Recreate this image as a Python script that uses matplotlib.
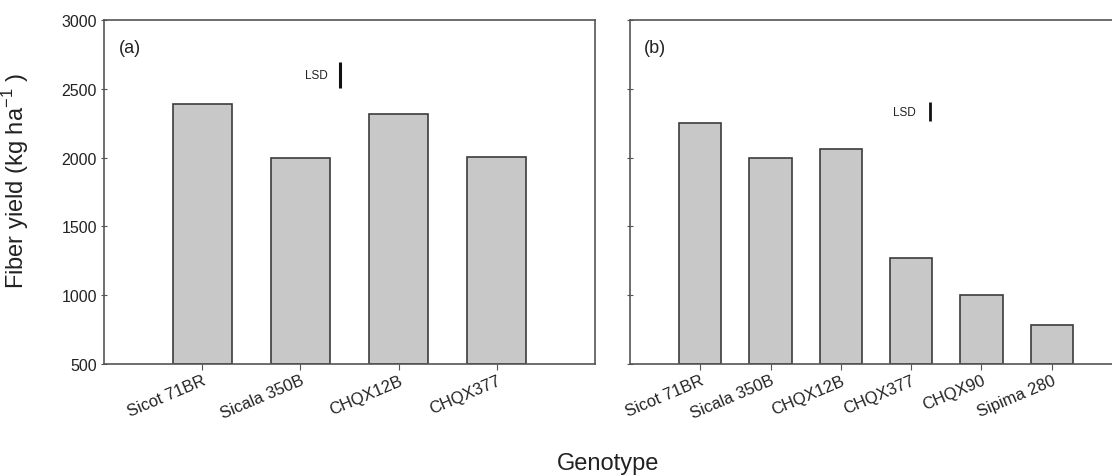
import matplotlib
matplotlib.use("Agg")
import matplotlib.pyplot as plt

plt.rcParams['font.family'] = ['Liberation Sans', 'DejaVu Sans']
plt.rcParams['mathtext.fontset'] = 'custom'
plt.rcParams['mathtext.rm'] = 'Liberation Sans'

genotypes_a = ["Sicot 71BR", "Sicala 350B", "CHQX12B", "CHQX377"]
yield_a = [2390, 2000, 2315, 2005]
lsd_a = [2505, 2695]

genotypes_b = ["Sicot 71BR", "Sicala 350B", "CHQX12B", "CHQX377", "CHQX90", "Sipima 280"]
yield_b = [2250, 1995, 2065, 1270, 1000, 780]
lsd_b = [2266, 2404]

yticks = [500, 1000, 1500, 2000, 2500, 3000]

W, H = 1112, 477
fig = plt.figure(figsize=(W / 100, H / 100), dpi=100)

bar_fc = "#c8c8c8"
bar_ec = "#3c3c3c"
spine_c = "#555555"
text_c = "#222222"

def style(ax):
    for s in ax.spines.values():
        s.set_color(spine_c)
        s.set_linewidth(1.2)
    ax.tick_params(axis='y', direction='inout', length=4, width=0.8, color=spine_c,
                   labelsize=11.5, labelcolor=text_c, pad=3)
    ax.tick_params(axis='x', direction='out', length=4, width=0.8, color=spine_c,
                   labelsize=12, labelcolor=text_c, pad=2)
    ax.set_ylim(500, 3000)
    ax.set_yticks(yticks)

# panel (a)
axa = fig.add_axes([104 / W, 1 - 365 / H, 491 / W, 344 / H])
xa = list(range(1, len(genotypes_a) + 1))
axa.bar(xa, [v - 500 for v in yield_a], bottom=500, width=0.6, color=bar_fc,
        edgecolor=bar_ec, linewidth=1.2)
axa.set_xlim(0, 5)
style(axa)
axa.set_xticks(xa)
axa.set_xticklabels(genotypes_a, rotation=23, ha='right', rotation_mode='anchor')
axa.text(0.15, 2800, "(a)", fontsize=13, color=text_c, va='center', ha='left')
axa.plot([2.40, 2.40], lsd_a, color='#111111', linewidth=2.2, solid_capstyle='butt')
axa.text(2.28, sum(lsd_a) / 2, "LSD", fontsize=8.5, color=text_c, va='center', ha='right')
axa.set_ylabel(r"Fiber yield (kg ha$^{\mathregular{-1}}$ )", fontsize=17, color=text_c)
axa.yaxis.set_label_coords(-0.148, 0.535)

# panel (b)
axb = fig.add_axes([630 / W, 1 - 365 / H, 492 / W, 344 / H])
xb = list(range(1, len(genotypes_b) + 1))
axb.bar(xb, [v - 500 for v in yield_b], bottom=500, width=0.6, color=bar_fc,
        edgecolor=bar_ec, linewidth=1.2)
axb.set_xlim(0, 7)
style(axb)
axb.set_yticklabels([])
axb.set_xticks(xb)
axb.set_xticklabels(genotypes_b, rotation=23, ha='right', rotation_mode='anchor')
axb.text(0.2, 2800, "(b)", fontsize=13, color=text_c, va='center', ha='left')
axb.plot([4.27, 4.27], lsd_b, color='#111111', linewidth=2.0, solid_capstyle='butt')
axb.text(4.06, sum(lsd_b) / 2, "LSD", fontsize=8.5, color=text_c, va='center', ha='right')

fig.text(608 / W, 1 - 464 / H, "Genotype", fontsize=17, color=text_c, ha='center', va='center')

fig.savefig("out.png", dpi=100, facecolor='white')
